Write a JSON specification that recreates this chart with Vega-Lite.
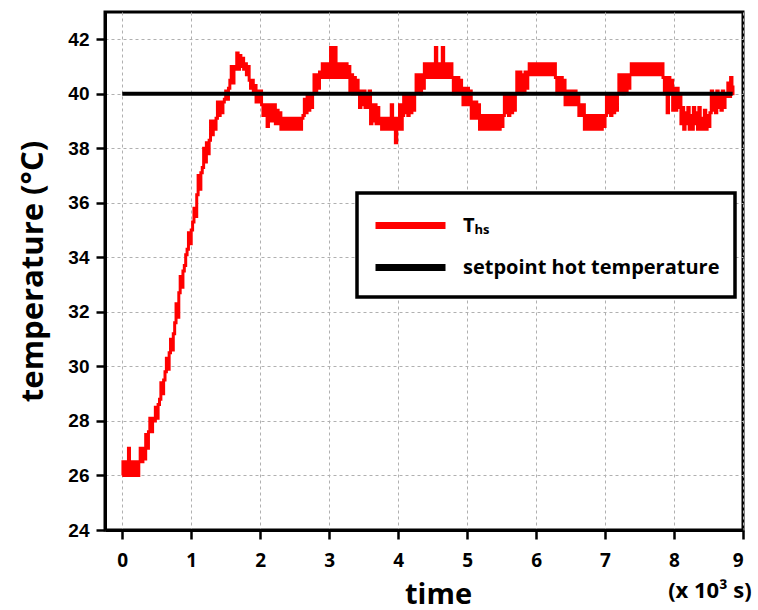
{
  "$schema": "https://vega.github.io/schema/vega-lite/v6.json",
  "autosize": {"type": "none"},
  "padding": {"left": 105, "top": 12, "right": 15, "bottom": 80},
  "width": 638,
  "height": 518,
  "background": "white",
  "config": {
    "view": {"stroke": "black", "strokeWidth": 3},
    "axis": {
      "domainColor": "black", "domainWidth": 3,
      "tickColor": "black", "tickWidth": 2.5,
      "labelColor": "black", "labelFontWeight": "bold",
      "titleColor": "black", "titleFontWeight": "bold",
      "grid": true, "gridColor": "#b0b0b0", "gridDash": [3, 3], "gridWidth": 1
    }
  },
  "datasets": {
    "ths": [
      {"t":0.00,"T":26.0},{"t":0.02,"T":26.5},{"t":0.04,"T":26.0},{"t":0.06,"T":26.5},{"t":0.08,"T":26.0},{"t":0.10,"T":27.0},{"t":0.11,"T":26.0},{"t":0.13,"T":26.5},{"t":0.15,"T":26.0},{"t":0.17,"T":26.5},{"t":0.19,"T":26.0},{"t":0.21,"T":26.5},{"t":0.23,"T":26.0},
      {"t":0.25,"T":26.5},{"t":0.27,"T":27.0},{"t":0.29,"T":26.5},{"t":0.31,"T":27.0},{"t":0.33,"T":26.6},{"t":0.35,"T":27.5},{"t":0.37,"T":27.0},{"t":0.39,"T":27.6},{"t":0.41,"T":28.1},{"t":0.43,"T":27.6},{"t":0.45,"T":28.1},
      {"t":0.47,"T":28.0},{"t":0.49,"T":28.5},{"t":0.51,"T":28.1},{"t":0.53,"T":28.6},{"t":0.55,"T":28.8},{"t":0.57,"T":29.4},{"t":0.59,"T":29.0},{"t":0.61,"T":29.5},{"t":0.63,"T":29.8},{"t":0.65,"T":30.3},{"t":0.67,"T":29.9},
      {"t":0.69,"T":30.5},{"t":0.71,"T":31.0},{"t":0.73,"T":30.6},{"t":0.75,"T":31.2},{"t":0.77,"T":31.6},{"t":0.79,"T":32.3},{"t":0.81,"T":31.8},{"t":0.83,"T":32.7},{"t":0.85,"T":33.3},{"t":0.87,"T":32.9},{"t":0.89,"T":33.5},
      {"t":0.91,"T":33.7},{"t":0.93,"T":34.1},{"t":0.95,"T":34.3},{"t":0.97,"T":34.9},{"t":0.99,"T":34.5},{"t":1.01,"T":35.0},{"t":1.03,"T":35.3},{"t":1.05,"T":35.8},{"t":1.07,"T":35.5},{"t":1.09,"T":36.3},{"t":1.11,"T":37.0},
      {"t":1.13,"T":36.5},{"t":1.15,"T":37.1},{"t":1.17,"T":37.3},{"t":1.19,"T":38.0},{"t":1.21,"T":37.5},{"t":1.23,"T":38.2},{"t":1.25,"T":37.8},{"t":1.27,"T":38.3},{"t":1.29,"T":39.0},{"t":1.31,"T":38.5},{"t":1.33,"T":39.0},
      {"t":1.35,"T":38.7},{"t":1.37,"T":39.1},{"t":1.39,"T":39.7},{"t":1.41,"T":39.2},{"t":1.43,"T":39.7},{"t":1.45,"T":39.3},{"t":1.47,"T":39.7},{"t":1.49,"T":39.8},{"t":1.51,"T":40.1},{"t":1.53,"T":39.8},{"t":1.55,"T":40.2},
      {"t":1.57,"T":40.5},{"t":1.59,"T":41.0},{"t":1.61,"T":40.4},{"t":1.63,"T":40.9},{"t":1.65,"T":41.0},{"t":1.67,"T":41.5},{"t":1.69,"T":40.9},{"t":1.71,"T":41.4},{"t":1.73,"T":41.0},{"t":1.75,"T":41.3},{"t":1.77,"T":40.9},
      {"t":1.79,"T":41.1},{"t":1.81,"T":40.7},{"t":1.83,"T":41.0},{"t":1.85,"T":40.5},{"t":1.87,"T":40.2},{"t":1.89,"T":40.5},{"t":1.91,"T":40.0},{"t":1.93,"T":40.3},{"t":1.95,"T":39.7},{"t":1.97,"T":40.1},{"t":1.99,"T":39.7},
      {"t":2.01,"T":40.1},{"t":2.03,"T":39.6},{"t":2.05,"T":39.2},{"t":2.07,"T":39.6},{"t":2.09,"T":39.2},{"t":2.11,"T":38.8},{"t":2.13,"T":39.6},{"t":2.15,"T":39.0},{"t":2.17,"T":39.6},{"t":2.19,"T":39.0},{"t":2.21,"T":39.6},
      {"t":2.23,"T":38.9},{"t":2.25,"T":39.4},{"t":2.27,"T":38.9},{"t":2.29,"T":39.3},
      {"t":2.31,"T":38.7},{"t":2.33,"T":39.1},{"t":2.35,"T":38.7},{"t":2.37,"T":39.1},{"t":2.39,"T":38.7},{"t":2.41,"T":39.1},{"t":2.43,"T":38.7},{"t":2.45,"T":39.1},{"t":2.47,"T":38.7},{"t":2.49,"T":39.1},{"t":2.51,"T":38.7},
      {"t":2.53,"T":39.1},{"t":2.55,"T":38.7},{"t":2.57,"T":39.1},{"t":2.59,"T":38.7},{"t":2.61,"T":39.1},
      {"t":2.63,"T":39.2},{"t":2.65,"T":39.8},{"t":2.67,"T":39.3},{"t":2.69,"T":39.9},{"t":2.71,"T":39.4},{"t":2.73,"T":40.0},{"t":2.75,"T":39.5},{"t":2.77,"T":40.0},{"t":2.79,"T":40.7},{"t":2.81,"T":40.1},{"t":2.83,"T":40.7},
      {"t":2.85,"T":40.2},{"t":2.87,"T":40.8},
      {"t":2.89,"T":40.6},{"t":2.91,"T":41.1},{"t":2.93,"T":40.6},{"t":2.95,"T":41.1},{"t":2.97,"T":40.6},{"t":2.99,"T":41.1},{"t":3.01,"T":40.6},{"t":3.03,"T":41.7},{"t":3.05,"T":40.6},{"t":3.07,"T":41.1},{"t":3.09,"T":41.7},
      {"t":3.11,"T":40.6},{"t":3.13,"T":41.1},{"t":3.15,"T":40.6},{"t":3.17,"T":41.1},{"t":3.19,"T":40.6},{"t":3.21,"T":41.1},{"t":3.23,"T":40.6},{"t":3.25,"T":41.1},{"t":3.27,"T":40.6},{"t":3.29,"T":41.0},
      {"t":3.31,"T":40.1},{"t":3.33,"T":40.7},{"t":3.35,"T":40.0},{"t":3.37,"T":40.6},{"t":3.39,"T":40.0},{"t":3.41,"T":40.5},{"t":3.43,"T":40.0},
      {"t":3.45,"T":39.5},{"t":3.47,"T":40.1},{"t":3.49,"T":39.6},{"t":3.51,"T":40.1},{"t":3.53,"T":39.5},{"t":3.55,"T":40.0},{"t":3.57,"T":39.5},{"t":3.59,"T":40.1},
      {"t":3.61,"T":38.9},{"t":3.63,"T":39.6},{"t":3.65,"T":39.0},{"t":3.67,"T":39.6},{"t":3.69,"T":38.9},{"t":3.71,"T":39.5},{"t":3.73,"T":38.9},
      {"t":3.75,"T":39.1},{"t":3.77,"T":38.7},{"t":3.79,"T":39.1},{"t":3.81,"T":38.7},{"t":3.83,"T":39.1},{"t":3.85,"T":38.7},{"t":3.87,"T":39.1},{"t":3.89,"T":38.7},{"t":3.91,"T":39.6},{"t":3.93,"T":38.7},{"t":3.95,"T":39.1},
      {"t":3.97,"T":38.2},{"t":3.99,"T":39.1},{"t":4.01,"T":38.7},{"t":4.03,"T":39.6},{"t":4.05,"T":38.7},
      {"t":4.07,"T":39.2},{"t":4.09,"T":40.0},{"t":4.11,"T":39.3},{"t":4.13,"T":40.0},{"t":4.15,"T":39.2},{"t":4.17,"T":39.9},{"t":4.19,"T":39.3},{"t":4.21,"T":40.0},{"t":4.23,"T":39.4},
      {"t":4.25,"T":40.0},{"t":4.27,"T":40.7},{"t":4.29,"T":40.1},{"t":4.31,"T":40.7},{"t":4.33,"T":40.0},{"t":4.35,"T":40.7},{"t":4.37,"T":40.2},
      {"t":4.39,"T":41.1},{"t":4.41,"T":40.6},{"t":4.43,"T":41.1},{"t":4.45,"T":40.6},{"t":4.47,"T":41.1},{"t":4.49,"T":40.6},{"t":4.51,"T":41.1},{"t":4.53,"T":40.6},{"t":4.55,"T":41.7},{"t":4.57,"T":40.6},{"t":4.59,"T":41.1},
      {"t":4.61,"T":40.6},{"t":4.63,"T":41.1},{"t":4.65,"T":41.7},{"t":4.67,"T":40.6},{"t":4.69,"T":41.1},{"t":4.71,"T":40.6},{"t":4.73,"T":41.1},{"t":4.75,"T":40.6},{"t":4.77,"T":41.1},{"t":4.79,"T":40.6},
      {"t":4.81,"T":40.0},{"t":4.83,"T":40.6},{"t":4.85,"T":40.0},{"t":4.87,"T":40.6},{"t":4.89,"T":40.0},{"t":4.91,"T":40.5},{"t":4.93,"T":40.0},
      {"t":4.95,"T":39.6},{"t":4.97,"T":40.2},{"t":4.99,"T":39.6},{"t":5.01,"T":40.2},{"t":5.03,"T":39.6},{"t":5.05,"T":40.1},
      {"t":5.07,"T":39.1},{"t":5.09,"T":39.7},{"t":5.11,"T":39.1},{"t":5.13,"T":39.7},{"t":5.15,"T":39.1},{"t":5.17,"T":39.6},
      {"t":5.19,"T":38.7},{"t":5.21,"T":39.2},{"t":5.23,"T":38.7},{"t":5.25,"T":39.2},{"t":5.27,"T":38.7},{"t":5.29,"T":39.2},{"t":5.31,"T":38.7},{"t":5.33,"T":39.2},{"t":5.35,"T":38.7},{"t":5.37,"T":39.2},{"t":5.39,"T":38.7},
      {"t":5.41,"T":39.2},{"t":5.43,"T":38.7},{"t":5.45,"T":39.2},{"t":5.47,"T":38.7},{"t":5.49,"T":39.2},{"t":5.51,"T":38.8},
      {"t":5.53,"T":39.2},{"t":5.55,"T":40.0},{"t":5.57,"T":39.3},{"t":5.59,"T":40.0},{"t":5.61,"T":39.2},{"t":5.63,"T":39.9},{"t":5.65,"T":39.3},{"t":5.67,"T":40.0},{"t":5.69,"T":39.4},
      {"t":5.71,"T":40.0},{"t":5.73,"T":40.8},{"t":5.75,"T":40.1},{"t":5.77,"T":40.8},{"t":5.79,"T":40.0},{"t":5.81,"T":40.7},{"t":5.83,"T":40.1},{"t":5.85,"T":40.8},{"t":5.87,"T":40.2},
      {"t":5.89,"T":40.7},{"t":5.91,"T":41.1},{"t":5.93,"T":40.7},{"t":5.95,"T":41.1},{"t":5.97,"T":40.7},{"t":5.99,"T":41.1},{"t":6.01,"T":40.7},{"t":6.03,"T":41.1},{"t":6.05,"T":40.7},{"t":6.07,"T":41.1},{"t":6.09,"T":40.7},
      {"t":6.11,"T":41.1},{"t":6.13,"T":40.7},{"t":6.15,"T":41.1},{"t":6.17,"T":40.7},{"t":6.19,"T":41.1},{"t":6.21,"T":40.7},{"t":6.23,"T":41.1},{"t":6.25,"T":40.7},{"t":6.27,"T":41.1},
      {"t":6.29,"T":40.6},{"t":6.31,"T":40.0},{"t":6.33,"T":40.6},{"t":6.35,"T":40.0},{"t":6.37,"T":40.6},{"t":6.39,"T":40.0},{"t":6.41,"T":40.5},
      {"t":6.43,"T":39.6},{"t":6.45,"T":40.1},{"t":6.47,"T":39.6},{"t":6.49,"T":40.1},{"t":6.51,"T":39.6},{"t":6.53,"T":40.1},{"t":6.55,"T":39.6},{"t":6.57,"T":40.1},{"t":6.59,"T":39.6},{"t":6.61,"T":40.0},
      {"t":6.63,"T":39.2},{"t":6.65,"T":39.6},{"t":6.67,"T":39.2},{"t":6.69,"T":39.6},
      {"t":6.71,"T":38.7},{"t":6.73,"T":39.2},{"t":6.75,"T":38.7},{"t":6.77,"T":39.2},{"t":6.79,"T":38.7},{"t":6.81,"T":39.2},{"t":6.83,"T":38.7},{"t":6.85,"T":39.2},{"t":6.87,"T":38.7},{"t":6.89,"T":39.2},{"t":6.91,"T":38.7},
      {"t":6.93,"T":39.2},{"t":6.95,"T":38.7},{"t":6.97,"T":39.2},{"t":6.99,"T":38.8},
      {"t":7.01,"T":39.2},{"t":7.03,"T":40.0},{"t":7.05,"T":39.3},{"t":7.07,"T":40.0},{"t":7.09,"T":39.2},{"t":7.11,"T":39.9},{"t":7.13,"T":39.3},{"t":7.15,"T":40.0},{"t":7.17,"T":39.4},
      {"t":7.19,"T":40.0},{"t":7.21,"T":40.7},{"t":7.23,"T":40.1},{"t":7.25,"T":40.7},{"t":7.27,"T":40.0},{"t":7.29,"T":40.7},{"t":7.31,"T":40.1},{"t":7.33,"T":40.7},{"t":7.35,"T":40.2},
      {"t":7.37,"T":40.7},{"t":7.39,"T":41.1},{"t":7.41,"T":40.7},{"t":7.43,"T":41.1},{"t":7.45,"T":40.7},{"t":7.47,"T":41.1},{"t":7.49,"T":40.7},{"t":7.51,"T":41.1},{"t":7.53,"T":40.7},{"t":7.55,"T":41.1},{"t":7.57,"T":40.7},
      {"t":7.59,"T":41.1},{"t":7.61,"T":40.7},{"t":7.63,"T":41.1},{"t":7.65,"T":40.7},{"t":7.67,"T":41.1},{"t":7.69,"T":40.7},{"t":7.71,"T":41.1},{"t":7.73,"T":40.7},{"t":7.75,"T":41.1},{"t":7.77,"T":40.7},{"t":7.79,"T":41.1},
      {"t":7.81,"T":40.7},{"t":7.83,"T":41.1},
      {"t":7.85,"T":40.6},{"t":7.87,"T":40.0},{"t":7.89,"T":40.6},{"t":7.91,"T":39.3},{"t":7.93,"T":40.6},{"t":7.95,"T":40.0},{"t":7.97,"T":40.5},
      {"t":7.99,"T":39.4},{"t":8.01,"T":40.2},{"t":8.03,"T":39.4},{"t":8.05,"T":40.2},{"t":8.07,"T":39.5},{"t":8.09,"T":40.0},
      {"t":8.11,"T":38.9},{"t":8.13,"T":39.5},{"t":8.15,"T":38.7},{"t":8.17,"T":39.3},{"t":8.19,"T":38.9},{"t":8.21,"T":39.5},{"t":8.23,"T":38.7},{"t":8.25,"T":39.2},{"t":8.27,"T":38.7},{"t":8.29,"T":39.5},{"t":8.31,"T":38.9},
      {"t":8.33,"T":39.3},{"t":8.35,"T":38.7},{"t":8.37,"T":39.5},{"t":8.39,"T":38.7},{"t":8.41,"T":39.1},{"t":8.43,"T":38.7},{"t":8.45,"T":39.4},{"t":8.47,"T":38.7},{"t":8.49,"T":39.2},{"t":8.51,"T":38.8},
      {"t":8.53,"T":39.3},{"t":8.55,"T":40.1},{"t":8.57,"T":39.4},{"t":8.59,"T":40.0},{"t":8.61,"T":39.3},{"t":8.63,"T":40.1},{"t":8.65,"T":39.5},{"t":8.67,"T":40.0},{"t":8.69,"T":39.4},{"t":8.71,"T":40.1},{"t":8.73,"T":39.5},
      {"t":8.75,"T":40.0},{"t":8.77,"T":39.9},{"t":8.79,"T":40.4},{"t":8.81,"T":39.9},{"t":8.83,"T":40.6},{"t":8.85,"T":40.0},{"t":8.86,"T":40.3}
    ],
    "setpoint": [
      {"t": 0, "T": 40},
      {"t": 8.85, "T": 40}
    ],
    "note": [
      {"label": "(x 10³ s)"}
    ]
  },
  "layer": [
    {
      "data": {"name": "ths"},
      "transform": [{"calculate": "'Tₕₛ'", "as": "series"}],
      "mark": {"type": "line", "interpolate": "step", "strokeWidth": 3},
      "encoding": {
        "x": {
          "field": "t", "type": "quantitative",
          "scale": {"domain": [-0.25, 9], "nice": false, "zero": false},
          "axis": {
            "values": [0, 0.5, 1, 1.5, 2, 2.5, 3, 3.5, 4, 4.5, 5, 5.5, 6, 6.5, 7, 7.5, 8, 8.5, 9],
            "labelExpr": "datum.value % 1 === 0 ? format(datum.value, 'd') : ''",
            "tickSize": {"condition": {"test": "datum.value % 1 === 0", "value": 9}, "value": 5},
            "labelFont": "Open Sans", "labelFontSize": 19, "labelPadding": 12,
            "title": "time", "titleFont": "Open Sans", "titleFontSize": 29,
            "titleX": 333, "titleY": 73, "titleBaseline": "alphabetic", "titleAlign": "center"
          }
        },
        "y": {
          "field": "T", "type": "quantitative",
          "scale": {"domain": [24, 43], "nice": false, "zero": false},
          "axis": {
            "values": [24, 25, 26, 27, 28, 29, 30, 31, 32, 33, 34, 35, 36, 37, 38, 39, 40, 41, 42],
            "labelExpr": "datum.value % 2 === 0 ? datum.label : ''",
            "tickSize": {"condition": {"test": "datum.value % 2 === 0", "value": 9}, "value": 5},
            "labelFont": "Liberation Sans", "labelFontSize": 19, "labelPadding": 7,
            "title": "temperature (°C)", "titleFont": "Open Sans", "titleFontSize": 31,
            "titleX": -72, "titleBaseline": "middle"
          }
        },
        "color": {
          "field": "series", "type": "nominal",
          "scale": {"domain": ["Tₕₛ", "setpoint hot temperature"], "range": ["#ff0000", "#000000"]},
          "legend": {
            "title": null, "orient": "none", "legendX": 252, "legendY": 181,
            "strokeColor": "black", "fillColor": "white",
            "padding": 15, "symbolType": "M-1,0H4", "symbolSize": 784, "symbolStrokeWidth": 7,
            "labelFont": "Open Sans", "labelFontSize": 20, "labelFontWeight": "bold", "labelColor": "black",
            "labelOffset": 56, "labelLimit": 400, "rowPadding": 10,
            "encode": {"legend": {"update": {"strokeWidth": {"value": 3.5}}}}
          }
        }
      }
    },
    {
      "data": {"name": "setpoint"},
      "transform": [{"calculate": "'setpoint hot temperature'", "as": "series"}],
      "mark": {"type": "line", "strokeWidth": 4},
      "encoding": {
        "x": {"field": "t", "type": "quantitative"},
        "y": {"field": "T", "type": "quantitative"},
        "color": {"field": "series", "type": "nominal"}
      }
    },
    {
      "data": {"name": "note"},
      "mark": {"type": "text", "fontSize": 22, "fontWeight": "bold", "font": "Open Sans", "color": "black", "dy": 61, "align": "center", "baseline": "middle"},
      "encoding": {
        "x": {"datum": 8.52},
        "y": {"datum": 24},
        "text": {"field": "label"}
      }
    }
  ]
}
